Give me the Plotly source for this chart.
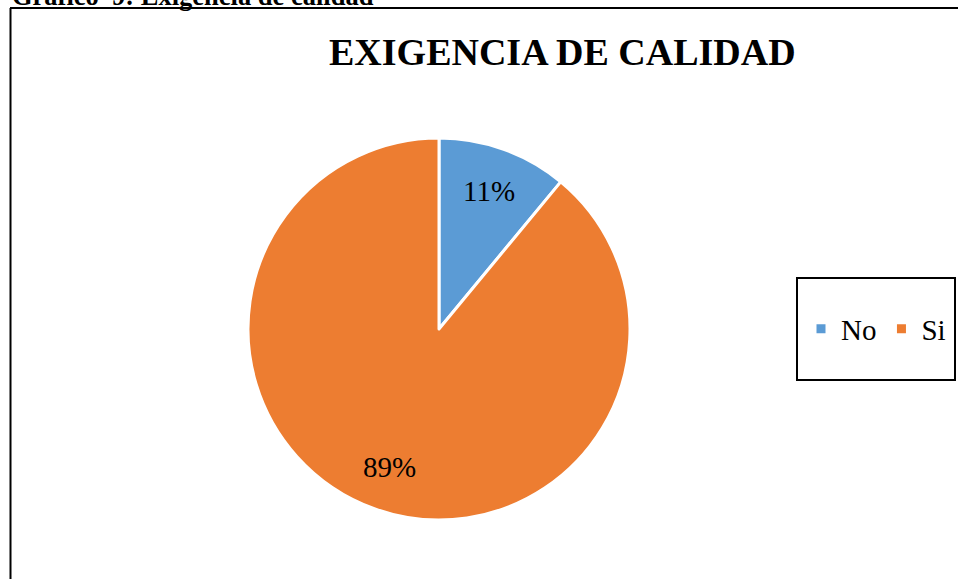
import math
import plotly.graph_objects as go

labels = ["No", "Si"]
values = [11, 89]
colors = ["#5B9BD5", "#ED7D31"]
chart_title = "EXIGENCIA DE CALIDAD"
caption = "Gráfico  9: Exigencia de calidad"

W, H = 959, 579
SERIF = "Liberation Serif, Times New Roman, serif"

# pie geometry (pixels)
CX, CY, R = 439, 329, 191
LABEL_R = 0.77

fig = go.Figure()
fig.add_trace(go.Pie(
    labels=labels,
    values=values,
    sort=False,
    direction="clockwise",
    rotation=0,
    marker=dict(colors=colors, line=dict(color="white", width=3)),
    textinfo="none",
    domain=dict(x=[(CX - R) / W, (CX + R) / W], y=[(H - CY - R) / H, (H - CY + R) / H]),
    hoverinfo="label+percent",
))

# percentage labels placed at each slice's mid-angle (derived from the values)
total = sum(values)
annotations = []
cum = 0
for v in values:
    mid = (cum + v / 2) / total * 2 * math.pi
    cum += v
    px = CX + LABEL_R * R * math.sin(mid)
    py = CY - LABEL_R * R * math.cos(mid)
    annotations.append(dict(
        text=f"{round(v / total * 100)}%", xref="paper", yref="paper",
        x=px / W, y=1 - py / H, xanchor="center", yanchor="middle",
        showarrow=False, font=dict(family=SERIF, size=29, color="black")))

annotations += [
    dict(text="<b>" + chart_title + "</b>", xref="paper", yref="paper",
         x=562 / W, y=1 - 52 / H, xanchor="center", yanchor="middle",
         showarrow=False, font=dict(family=SERIF, size=38, color="black")),
    dict(text="<b>" + caption + "</b>", xref="paper", yref="paper",
         x=10 / W, y=1, xanchor="left", yanchor="middle", yshift=4,
         showarrow=False, font=dict(family=SERIF, size=26.5, color="black")),
]

fig.update_layout(
    width=W, height=H,
    margin=dict(l=0, r=0, t=0, b=0),
    paper_bgcolor="white",
    plot_bgcolor="white",
    showlegend=True,
    legend=dict(
        orientation="h",
        x=876 / W, xanchor="center",
        y=1 - 329 / H, yanchor="middle",
        font=dict(family=SERIF, size=29, color="black"),
        bgcolor="rgba(0,0,0,0)",
        itemwidth=30,
    ),
    shapes=[
        dict(type="line", xref="paper", yref="paper",
             x0=10.5 / W, x1=10.5 / W, y0=0, y1=1 - 8 / H,
             line=dict(color="black", width=2)),
        dict(type="line", xref="paper", yref="paper",
             x0=10 / W, x1=958 / W, y0=1 - 8 / H, y1=1 - 8 / H,
             line=dict(color="black", width=2)),
        dict(type="rect", xref="paper", yref="paper",
             x0=797 / W, x1=955 / W, y0=1 - 380 / H, y1=1 - 278 / H,
             line=dict(color="black", width=2), fillcolor="rgba(0,0,0,0)"),
    ],
    annotations=annotations,
)

fig.write_html("out.html",
               config={"displayModeBar": False},
               post_script="document.body.style.margin='0';document.body.style.overflow='hidden';")
